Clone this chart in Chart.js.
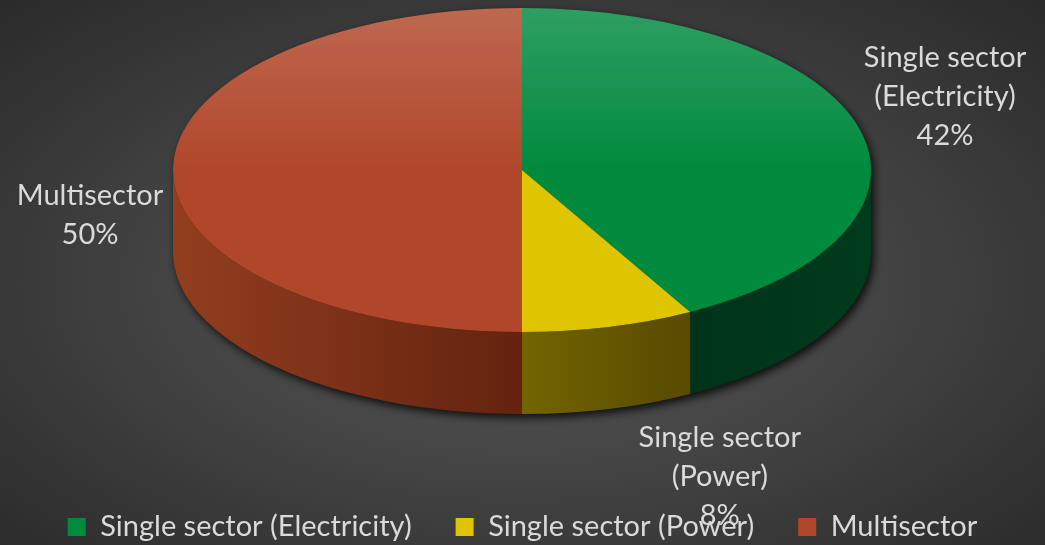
<!DOCTYPE html>
<html><head><meta charset="utf-8">
<script src="https://cdn.jsdelivr.net/npm/chart.js@4"></script>
<style>
html,body{margin:0;padding:0;}
body{width:1045px;height:545px;overflow:hidden;background:radial-gradient(ellipse farthest-corner at 50% 52%, #575757 0%, #454545 45%, #2a2a2a 100%);}
#wrap{width:1045px;height:545px;position:relative;}
</style></head>
<body><div id="wrap"><canvas id="c"></canvas></div>
<script>
const categories = ['Single sector (Electricity)', 'Single sector (Power)', 'Multisector'];
const shares = [42, 8, 50];
const topColors = ['#008a3e', '#dec500', '#b0472a'];
const wallLeft = ['#00321a', '#736500', '#923e1f'];
const wallRight = ['#003b1d', '#584a00', '#64230f'];
const labelOffsets = [[85, -74], [111, 109], [-83, 4]];

const CX = 522, CY = 170, RX = 349, RY = 162, DEPTH = 82;
const TEXT = '#dadada';
const FONT = 'Lato';
const FONT_SIZE = 29;
const LEGEND_PAD = 44;
const LEGEND_Y = 527;

function labelLines(i) {
  const name = categories[i];
  const total = shares.reduce((a, b) => a + b, 0);
  const pct = Math.round(shares[i] / total * 100) + '%';
  const k = name.indexOf(' (');
  const lines = k > 0 ? [name.slice(0, k), name.slice(k + 1)] : [name];
  lines.push(pct);
  return lines;
}

const pie3d = {
  id: 'pie3d',
  afterLayout(chart) {
    const lg = chart.legend;
    if (!lg) return;
    const mid = lg.top + LEGEND_PAD + FONT_SIZE / 2;
    const dy = LEGEND_Y - mid;
    lg.top += dy;
    lg.bottom += dy;
  },
  beforeDatasetsDraw(chart) {
    const ctx = chart.ctx;
    const meta = chart.getDatasetMeta(0);
    ctx.save();
    ctx.shadowColor = 'rgba(0,0,0,0.8)';
    ctx.shadowBlur = 9;
    ctx.shadowOffsetX = 3;
    ctx.shadowOffsetY = 4;
    ctx.fillStyle = '#1e1e1e';
    ctx.beginPath();
    ctx.ellipse(CX, CY + DEPTH, RX, RY, 0, 0, Math.PI);
    ctx.ellipse(CX, CY, RX, RY, 0, Math.PI, 2 * Math.PI);
    ctx.closePath();
    ctx.fill();
    ctx.restore();
    const TWO = 2 * Math.PI;
    meta.data.forEach((arc, i) => {
      for (let k = -1; k <= 1; k++) {
        const a0 = Math.max(arc.startAngle + k * TWO, 0);
        const a1 = Math.min(arc.endAngle + k * TWO, Math.PI);
        if (a1 <= a0) continue;
        const xa = CX + RX * Math.cos(a0), xb = CX + RX * Math.cos(a1);
        const g = ctx.createLinearGradient(Math.min(xa, xb), 0, Math.max(xa, xb), 0);
        g.addColorStop(0, wallLeft[i]);
        g.addColorStop(1, wallRight[i]);
        ctx.save();
        ctx.fillStyle = g;
        ctx.beginPath();
        ctx.ellipse(CX, CY, RX, RY, 0, a0, a1);
        ctx.ellipse(CX, CY + DEPTH, RX, RY, 0, a1, a0, true);
        ctx.closePath();
        ctx.fill();
        ctx.restore();
      }
    });
    const a = meta.data[0];
    const R = a.outerRadius;
    ctx.save();
    ctx.translate(CX, CY);
    ctx.scale(RX / R, RY / R);
    ctx.translate(-a.x, -a.y);
  },
  afterDatasetsDraw(chart) {
    const ctx = chart.ctx;
    ctx.restore();
    ctx.save();
    ctx.beginPath();
    ctx.ellipse(CX, CY, RX, RY, 0, 0, 2 * Math.PI);
    ctx.clip();
    const g = ctx.createLinearGradient(0, CY - RY, 0, CY);
    g.addColorStop(0, 'rgba(255,255,255,0.18)');
    g.addColorStop(1, 'rgba(255,255,255,0)');
    ctx.fillStyle = g;
    ctx.fillRect(CX - RX, CY - RY, 2 * RX, RY);
    ctx.restore();
  },
  afterDraw(chart) {
    const ctx = chart.ctx;
    const meta = chart.getDatasetMeta(0);
    ctx.save();
    ctx.font = FONT_SIZE + 'px ' + FONT;
    ctx.fillStyle = TEXT;
    ctx.textAlign = 'center';
    ctx.textBaseline = 'middle';
    meta.data.forEach((arc, i) => {
      const m = (arc.startAngle + arc.endAngle) / 2;
      const ax = CX + RX * Math.cos(m), ay = CY + RY * Math.sin(m) + DEPTH / 2;
      const lines = labelLines(i);
      const cx = ax + labelOffsets[i][0], cy = ay + labelOffsets[i][1];
      lines.forEach((t, j) => ctx.fillText(t, cx, cy + (j - (lines.length - 1) / 2) * 39));
    });
    ctx.restore();
  }
};

new Chart(document.getElementById('c'), {
  type: 'pie',
  data: {
    labels: categories,
    datasets: [{
      data: shares,
      backgroundColor: topColors,
      borderWidth: 0,
      clip: false
    }]
  },
  options: {
    responsive: true,
    maintainAspectRatio: false,
    animation: false,
    layout: { padding: 0 },
    plugins: {
      tooltip: { enabled: false },
      legend: {
        position: 'bottom',
        labels: {
          color: TEXT,
          font: { family: FONT, size: FONT_SIZE },
          boxWidth: 18,
          boxHeight: 18,
          padding: LEGEND_PAD
        }
      }
    }
  },
  plugins: [pie3d]
});
</script>
</body></html>
